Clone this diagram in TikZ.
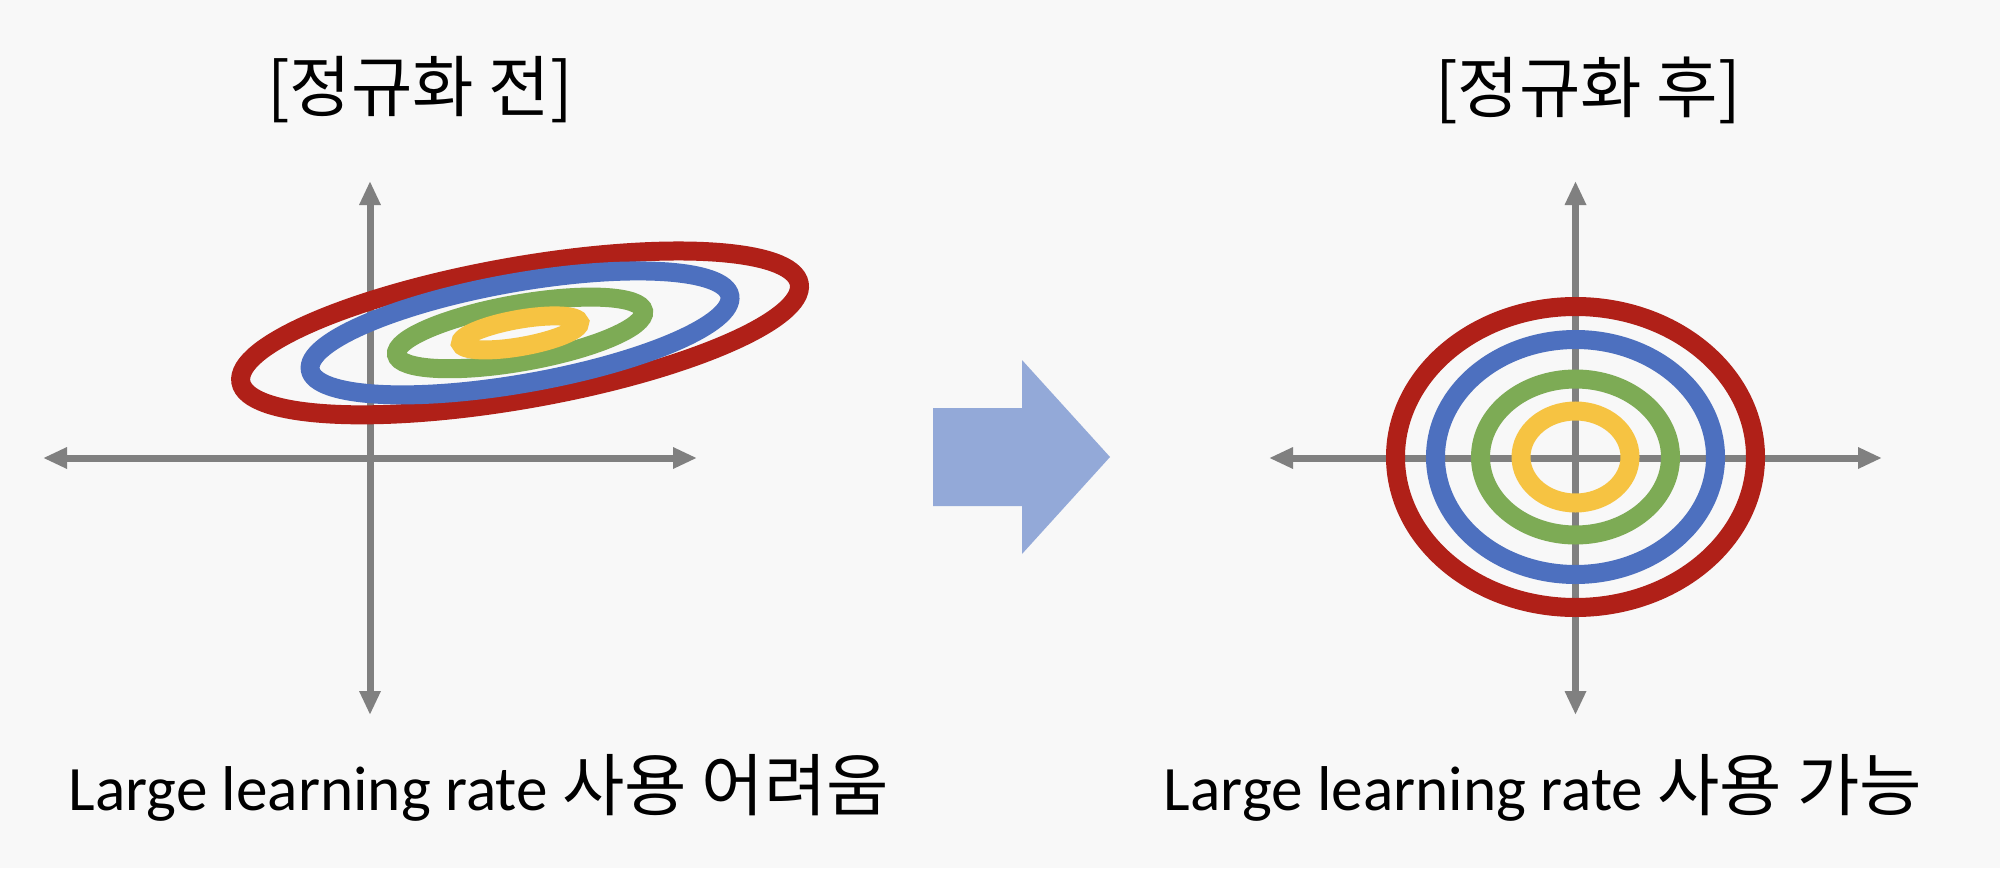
\documentclass[tikz,border=0pt]{standalone}
\usepackage{fontspec}
\setmainfont{Carlito}
\newfontfamily\kr{Noto Sans CJK KR}
\usetikzlibrary{arrows.meta,positioning}
\definecolor{bggray}{HTML}{F8F8F8}
\definecolor{axisgray}{HTML}{808080}
\definecolor{ringred}{HTML}{B02018}
\definecolor{ringblue}{HTML}{4D70BF}
\definecolor{ringgreen}{HTML}{7DAB55}
\definecolor{ringyellow}{HTML}{F6C342}
\definecolor{arrowblue}{HTML}{93A9D8}
\newcommand{\krtext}[1]{{\kr\fontsize{19.3}{23}\selectfont #1}}

\begin{document}
\begin{tikzpicture}[
    axis/.style={axisgray, line width=0.07cm, {Triangle[length=0.24cm,width=0.2cm]}-{Triangle[length=0.24cm,width=0.2cm]}},
    ring/.style={line width=0.19cm},
    label/.style={font=\fontsize{19}{23}\selectfont, inner sep=0pt},
    caption/.style={font=\fontsize{18}{23}\selectfont, inner sep=0pt, anchor=base}
  ]
    % Background
    \fill[bggray] (0,0) rectangle (20,8.68);

    % Axes before normalization
    \coordinate (lW) at (0.43,4.10);
    \coordinate (lE) at (6.97,4.10);
    \coordinate (lS) at (3.70,1.53);
    \coordinate (lN) at (3.70,6.87);
    \draw[axis] (lW) -- (lE);
    \draw[axis] (lS) -- (lN);

    % Axes after normalization
    \coordinate (rW) at (12.69,4.10);
    \coordinate (rE) at (18.82,4.10);
    \coordinate (rS) at (15.755,1.53);
    \coordinate (rN) at (15.755,6.87);
    \draw[axis] (rW) -- (rE);
    \draw[axis] (rS) -- (rN);

    % Tilted contours
    \coordinate (lC) at (5.20,5.35);
    \foreach \col/\a/\b in {ringred/2.835/0.665, ringblue/2.13/0.505, ringgreen/1.254/0.289, ringyellow/0.604/0.136} {
        \draw[ring, \col, rotate around={10:(lC)}] (lC) ellipse [x radius=\a, y radius=\b];
      }

    % Round contours
    \coordinate (rC) at (15.755,4.11);
    \foreach \col/\a/\b in {ringred/1.80/1.505, ringblue/1.40/1.175, ringgreen/0.95/0.78, ringyellow/0.545/0.46} {
        \draw[ring, \col] (rC) ellipse [x radius=\a, y radius=\b];
      }

    % Block arrow
    \fill[arrowblue] (9.33,4.60) -- (10.22,4.60) -- (10.22,5.08) -- (11.10,4.11)
      -- (10.22,3.14) -- (10.22,3.62) -- (9.33,3.62) -- cycle;

    % Titles
    \node[label] (titleL) at (4.20,7.78) {\kr [정규화 전]};
    \node[label] (titleR) at (15.88,7.78) {\kr [정규화 후]};

    % Captions
    \node[caption] (capL) at (4.79,0.58) {Large learning rate \krtext{사용 어려움}};
    \node[caption] (capR) at (15.43,0.58) {Large learning rate \krtext{사용 가능}};
  \end{tikzpicture}
\end{document}
